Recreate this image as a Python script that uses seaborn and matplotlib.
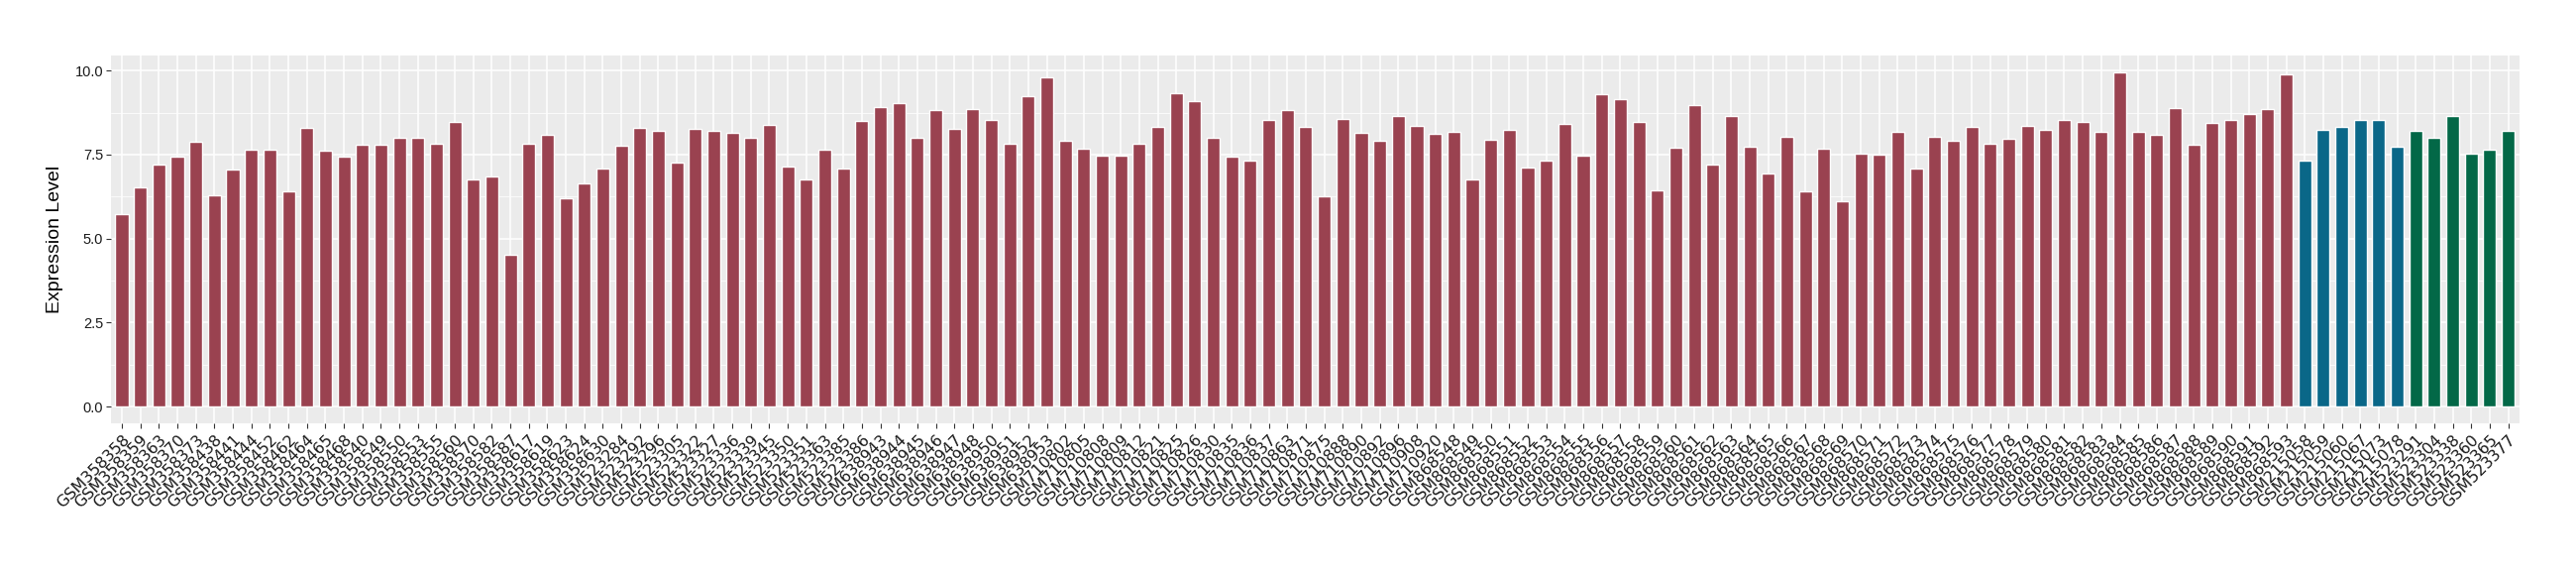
import matplotlib
matplotlib.use("Agg")
import matplotlib.pyplot as plt
import seaborn as sns
import pandas as pd
from matplotlib.ticker import MultipleLocator

# samples in the first group (maroon)
samples_a = [
    "GSM358358", "GSM358359", "GSM358363", "GSM358370", "GSM358373", "GSM358438",
    "GSM358441", "GSM358444", "GSM358452", "GSM358462", "GSM358464", "GSM358465",
    "GSM358468", "GSM358540", "GSM358549", "GSM358550", "GSM358553", "GSM358555",
    "GSM358560", "GSM358570", "GSM358582", "GSM358587", "GSM358617", "GSM358619",
    "GSM358623", "GSM358624", "GSM358630", "GSM523284", "GSM523292", "GSM523296",
    "GSM523305", "GSM523322", "GSM523327", "GSM523336", "GSM523339", "GSM523345",
    "GSM523350", "GSM523351", "GSM523363", "GSM523385", "GSM523386", "GSM638943",
    "GSM638944", "GSM638945", "GSM638946", "GSM638947", "GSM638948", "GSM638950",
    "GSM638951", "GSM638952", "GSM638953", "GSM710802", "GSM710805", "GSM710808",
    "GSM710809", "GSM710812", "GSM710821", "GSM710825", "GSM710826", "GSM710830",
    "GSM710835", "GSM710836", "GSM710837", "GSM710863", "GSM710871", "GSM710875",
    "GSM710888", "GSM710890", "GSM710892", "GSM710896", "GSM710908", "GSM710920",
    "GSM868548", "GSM868549", "GSM868550", "GSM868551", "GSM868552", "GSM868553",
    "GSM868554", "GSM868555", "GSM868556", "GSM868557", "GSM868558", "GSM868559",
    "GSM868560", "GSM868561", "GSM868562", "GSM868563", "GSM868564", "GSM868565",
    "GSM868566", "GSM868567", "GSM868568", "GSM868569", "GSM868570", "GSM868571",
    "GSM868572", "GSM868573", "GSM868574", "GSM868575", "GSM868576", "GSM868577",
    "GSM868578", "GSM868579", "GSM868580", "GSM868581", "GSM868582", "GSM868583",
    "GSM868584", "GSM868585", "GSM868586", "GSM868587", "GSM868588", "GSM868589",
    "GSM868590", "GSM868591", "GSM868592", "GSM868593",
]
values_a = [
    5.74, 6.52, 7.21, 7.43, 7.89, 6.29, 7.06, 7.63, 7.63, 6.40, 8.29, 7.60,
    7.43, 7.80, 7.80, 8.00, 8.00, 7.83, 8.46, 6.75, 6.86, 4.52, 7.83, 8.09,
    6.20, 6.63, 7.09, 7.75, 8.29, 8.20, 7.26, 8.26, 8.20, 8.14, 8.00, 8.38,
    7.15, 6.75, 7.63, 7.09, 8.49, 8.92, 9.03, 8.00, 8.83, 8.26, 8.86, 8.52,
    7.83, 9.23, 9.80, 7.92, 7.66, 7.46, 7.46, 7.83, 8.32, 9.34, 9.09, 8.00,
    7.43, 7.32, 8.54, 8.83, 8.32, 6.26, 8.57, 8.14, 7.92, 8.66, 8.35, 8.11,
    8.17, 6.75, 7.94, 8.23, 7.12, 7.32, 8.40, 7.46, 9.31, 9.14, 8.46, 6.43,
    7.69, 8.98, 7.21, 8.66, 7.72, 6.94, 8.03, 6.40, 7.66, 6.12, 7.54, 7.49,
    8.17, 7.09, 8.03, 7.92, 8.32, 7.83, 7.97, 8.35, 8.23, 8.54, 8.46, 8.17,
    9.94, 8.17, 8.09, 8.89, 7.80, 8.43, 8.54, 8.71, 8.86, 9.88,
]

# second group (blue)
samples_b = ["GSM215058", "GSM215059", "GSM215060", "GSM215067", "GSM215073", "GSM215078"]
values_b = [7.32, 8.23, 8.32, 8.52, 8.52, 7.72]

# third group (green)
samples_c = ["GSM523291", "GSM523304", "GSM523338", "GSM523360", "GSM523365", "GSM523377"]
values_c = [8.20, 8.00, 8.66, 7.54, 7.63, 8.20]

group_names = ["A", "B", "C"]
group_colors = ["#9a4250", "#0a6788", "#036847"]

df = pd.DataFrame({
    "sample": samples_a + samples_b + samples_c,
    "value": values_a + values_b + values_c,
    "group": [group_names[0]] * len(samples_a)
    + [group_names[1]] * len(samples_b)
    + [group_names[2]] * len(samples_c),
})

sns.set_theme(style="darkgrid")
plt.rcParams["font.family"] = ["Liberation Sans", "DejaVu Sans"]

fig = plt.figure(figsize=(26, 5.8), dpi=100)
ax = fig.add_axes([0.043, 0.264, 0.935, 0.639])
ax.set_facecolor("#ebebeb")

sns.barplot(data=df, x="sample", y="value", hue="group",
            palette=dict(zip(group_names, group_colors)),
            dodge=False, width=0.7, saturation=1, legend=False, ax=ax)

n = len(df)
ax.set_xlim(-0.6, n - 1 + 0.6)
ax.set_ylim(-0.497, 10.44)
ax.yaxis.set_major_locator(MultipleLocator(2.5))
ax.yaxis.set_minor_locator(MultipleLocator(1.25))
ax.yaxis.set_major_formatter(matplotlib.ticker.FormatStrFormatter("%.1f"))

ax.set_axisbelow(True)
ax.grid(which="major", color="white", linewidth=1.1)
ax.grid(which="minor", axis="y", color="white", linewidth=0.55)
for s in ax.spines.values():
    s.set_visible(False)

ax.tick_params(axis="both", which="major", length=3.5, width=0.8, color="#333333",
               direction="out", bottom=True, left=True)
ax.tick_params(axis="y", which="minor", length=0)
ax.tick_params(axis="y", labelsize=10.5, labelcolor="#1a1a1a", pad=2)

ax.set_xticks(range(n))
ax.set_xticklabels(df["sample"], rotation=45, ha="right", va="top",
                   rotation_mode="anchor", fontsize=11.5, color="#1a1a1a",
                   family="DejaVu Sans")
ax.tick_params(axis="x", pad=3)

ax.set_xlabel("")
ax.set_ylabel("Expression Level", fontsize=14, color="black", labelpad=8)

fig.savefig("out.png", dpi=100, facecolor="white")
